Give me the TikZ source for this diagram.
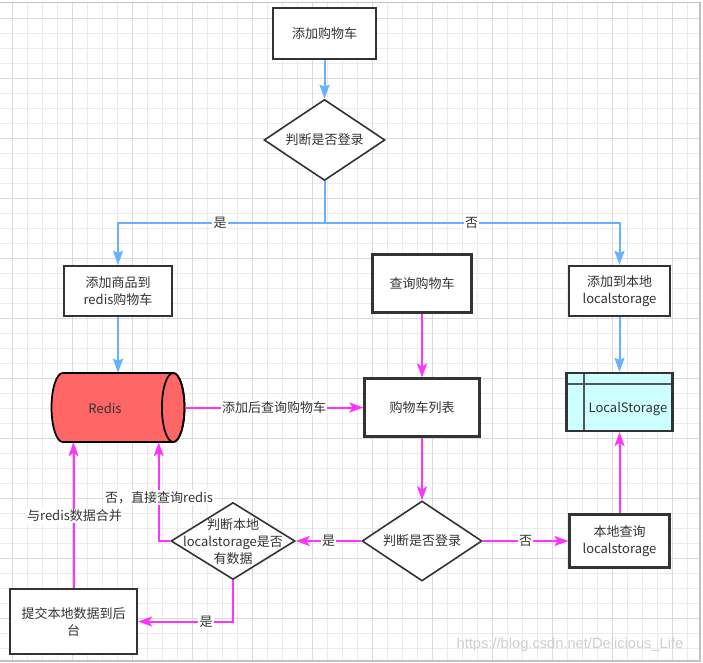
\documentclass[tikz,border=0pt]{standalone}
\usepackage{fontspec}
\setmainfont{Noto Sans CJK SC}
\newfontfamily\wmfont{Liberation Sans}
\usetikzlibrary{shapes.geometric,arrows.meta}
\definecolor{txt}{HTML}{333333}
\definecolor{bord}{HTML}{333333}
\definecolor{cblue}{HTML}{66B2FF}
\definecolor{cmag}{HTML}{FF33FF}
\definecolor{credis}{HTML}{FF6666}
\definecolor{cls}{HTML}{CCFFFF}
\definecolor{gminor}{HTML}{EBEBEB}
\definecolor{gmajor}{HTML}{DADADA}
\definecolor{framec}{HTML}{C2C2C2}
\definecolor{wm}{HTML}{CFCFCF}
\definecolor{inner}{HTML}{555555}
\begin{document}
\begin{tikzpicture}[x=0.75pt,y=-0.75pt,
  font=\fontsize{9.75pt}{12.75pt}\selectfont, text=txt,
  box/.style={draw=bord, line width=1.7pt, fill=white, inner sep=0pt, align=center},
  dia/.style={diamond, draw=bord, line width=1.2pt, fill=white, inner sep=0pt},
  lbl/.style={fill=white, inner sep=1pt, text=txt},
  blueline/.style={draw=cblue, line width=1.5pt, -{Stealth[length=10.5pt,width=7.5pt,inset=1.5pt]}},
  magline/.style={draw=cmag, line width=1.5pt, -{Stealth[length=10.5pt,width=7.5pt,inset=2.5pt]}}]
\useasboundingbox (0,0) rectangle (703,663);
\fill[white] (0,0) rectangle (703,663);
% grid
\foreach \k in {0,...,45} \draw[gminor, line width=0.75pt] ({12.7+15*\k},2.3) -- ({12.7+15*\k},661);
\foreach \k in {0,...,42} \draw[gminor, line width=0.75pt] (0,{18.3+15*\k}) -- (700,{18.3+15*\k});
\foreach \k in {0,...,11} \draw[gmajor, line width=0.75pt] ({12.7+60*\k},2.3) -- ({12.7+60*\k},661);
\foreach \k in {0,...,10} \draw[gmajor, line width=0.75pt] (0,{18.3+60*\k}) -- (700,{18.3+60*\k});
\draw[framec, line width=0.9pt] (0,2.3) -- (700,2.3) -- (700,661) -- (0,661);

% nodes
\node[box, minimum width=77.25pt, minimum height=38.25pt] (b1) at (324.5,33.5) {添加购物车};
\node[dia, minimum width=90.75pt, minimum height=60.75pt] (d1) at (324.5,140) {};
\node at (d1) {判断是否登录};
\node[box, minimum width=81pt, minimum height=37.5pt] (b2) at (118,291) {添加商品到\\redis购物车};
\node[box, minimum width=75.75pt, minimum height=37.5pt] (b3) at (619.5,291) {添加到本地\\localstorage};
\node[box, minimum width=74.25pt, minimum height=43.5pt] (b4) at (422,283.5) {查询购物车};
% redis cylinder
\node[minimum width=99.75pt, minimum height=51.75pt, inner sep=0pt] (redis) at (118,407.5) {};
\filldraw[fill=credis, draw=black, line width=1.3pt] (62.8,373) -- (173.2,373)
  arc[start angle=90, end angle=-90, x radius=8.475pt, y radius=25.875pt] -- (62.8,442)
  arc[start angle=270, end angle=90, x radius=8.475pt, y radius=25.875pt] -- cycle;
\draw[black, line width=1.3pt] (173.2,407.5) ellipse[x radius=8.475pt, y radius=25.875pt];
\node at (105,408) {Redis};
\node[box, minimum width=86.25pt, minimum height=43.5pt] (b5) at (422,407.5) {购物车列表};
% LocalStorage table
\node[box, fill=cls, minimum width=79.5pt, minimum height=43.5pt] (ls) at (619.5,402) {};
\draw[inner, line width=1.2pt] (566.5,384) -- (672.5,384);
\draw[inner, line width=1.2pt] (584,373) -- (584,431);
\draw[bord, line width=1.7pt] (566.5,373) rectangle (672.5,431);
\node at (628,409) {LocalStorage};
\node[dia, minimum width=90pt, minimum height=60pt] (d2) at (422,541) {};
\node at (d2) {判断是否登录};
\node[box, minimum width=75pt, minimum height=39.75pt] (b6) at (619.5,541) {本地查询\\localstorage};
\node[dia, minimum width=93pt, minimum height=57.75pt] (d3) at (233,541) {};
\node[align=center, inner sep=0pt] at (233,542) {判断本地\\localstorage是否\\有数据};
\node[box, minimum width=95.25pt, minimum height=48.75pt] (b7) at (73.5,621.5) {提交本地数据到后\\台};

% blue connectors
\draw[blueline] (b1) -- (d1);
\coordinate (j) at (324.5,222.7);
\draw[blueline] (d1.south) -- (j) -| (b2.north);
\draw[blueline] (j) -| (b3.north);
\node[lbl] at (220,222.7) {是};
\node[lbl] at (471.5,222.7) {否};
\draw[blueline] (b2.south) -- (redis.north);
\draw[blueline] (b3.south) -- (ls.north);

% magenta connectors
\draw[magline] (redis.east) -- node[lbl] {添加后查询购物车} (b5.west);
\draw[magline] (b4.south) -- (b5.north);
\draw[magline] (b5.south) -- (d2.north);
\draw[magline] (d2.west) -- node[lbl] {是} (d3.east);
\draw[magline] (d2.east) -- node[lbl, pos=0.5] {否} (b6.west);
\draw[magline] (b6.north) -- (ls.south);
\coordinate (c1) at (158.7,541);
\draw[magline] (d3.west) -- (c1) -- (c1 |- redis.south);
\node[lbl] at (159,497.5) {否，直接查询redis};
\draw[magline] (d3.south) |- (b7.east);
\node[lbl] at (206,621.5) {是};
\draw[magline] (b7.north) -- (b7.north |- redis.south);
\node[lbl] at (74.5,516) {与redis数据合并};

% watermark
\node[font=\wmfont\fontsize{11pt}{13pt}\selectfont, text=wm] (wmk) at (570,645) {https://blog.csdn.net/Delicious\_Life};
\end{tikzpicture}
\end{document}
